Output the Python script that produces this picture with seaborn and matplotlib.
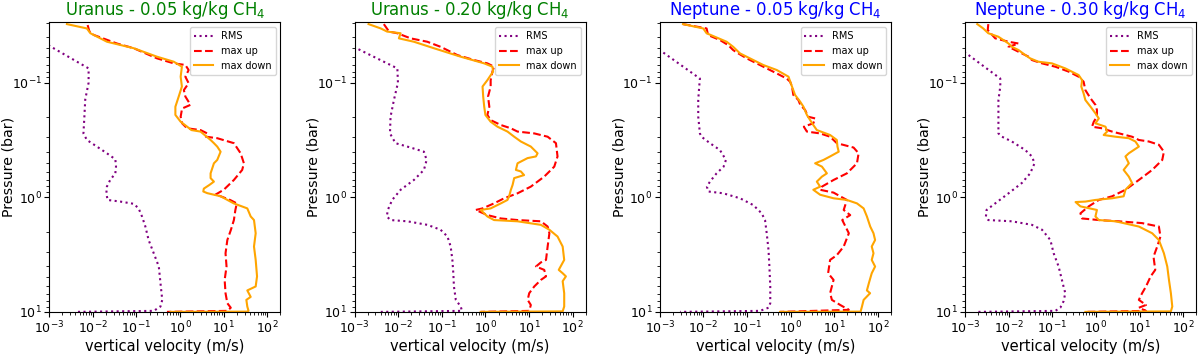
import matplotlib
matplotlib.use("Agg")
import matplotlib.pyplot as plt
import seaborn as sns

# Uranus - 0.05 kg/kg CH4
u05_rms_v = [0.00095, 0.008, 0.008, 0.0067, 0.0064, 0.0061, 0.0073, 0.0124, 0.021, 0.0328, 0.034, 0.0328, 0.025, 0.021, 0.0204,
             0.0218, 0.0428, 0.0865, 0.112, 0.134, 0.16, 0.19, 0.249, 0.325, 0.355, 0.39, 0.355, 0.249, 0.004]
u05_rms_p = [0.047, 0.075, 0.1, 0.14, 0.198, 0.277, 0.316, 0.361, 0.413, 0.466, 0.54, 0.618, 0.706, 0.807, 0.923,
             1.055, 1.09, 1.14, 1.25, 1.47, 1.80, 2.36, 3.08, 4.02, 5.6, 7.86, 8.98, 9.8, 10.0]
u05_up_v = [0.0076, 0.0083, 0.0105, 0.0358, 0.0865, 0.296, 0.718, 1.32, 1.57, 1.32, 1.57, 1.22, 1.32, 1.73, 1.11,
            1.03, 1.11, 1.45, 2.94, 4.19, 3.9, 7.1, 17.1, 24.4, 29, 26.5, 17.1, 10, 6.4, 8.5,
            14, 19.9, 18.5, 17.1, 14.5, 12.1, 11, 11.6, 10.5, 11, 12.1, 14.5, 12.1, 0.5]
u05_up_p = [0.0314, 0.0355, 0.0383, 0.0455, 0.050, 0.0613, 0.0678, 0.070, 0.0775, 0.0886, 0.101, 0.116, 0.132, 0.156, 0.168,
            0.198, 0.226, 0.250, 0.259, 0.277, 0.296, 0.305, 0.337, 0.413, 0.505, 0.577, 0.706, 0.86, 0.95, 0.98,
            1.055, 1.13, 1.29, 1.58, 1.94, 2.36, 3.08, 4.02, 5.26, 6.87, 8.4, 9.2, 9.8, 10.0]
u05_down_v = [0.00255, 0.0073, 0.0088, 0.0211, 0.0865, 0.296, 0.718, 1.1, 1.03, 1.1, 0.93, 0.78, 0.78, 1.03, 1.45,
              1.82, 2.94, 5.0, 5.96, 7.1, 8.48, 7.1, 5.96, 5.0, 5.0, 5.96, 4.7, 3.5, 3.4, 4.19,
              8.5, 17, 34.7, 41.5, 49.4, 54, 49.4, 54, 58, 54, 34.7, 41.5, 33, 34.7, 37, 34.7, 0.6]
u05_down_p = [0.0308, 0.0336, 0.037, 0.0439, 0.050, 0.0593, 0.0656, 0.0725, 0.0886, 0.108, 0.132, 0.162, 0.191, 0.219, 0.242,
              0.259, 0.267, 0.316, 0.337, 0.361, 0.40, 0.472, 0.505, 0.618, 0.68, 0.73, 0.78, 0.84, 0.89, 0.92,
              0.98, 1.13, 1.25, 1.47, 1.58, 2.06, 2.69, 3.52, 4.9, 6.0, 6.5, 7.4, 7.86, 8.98, 9.8, 9.95, 10.0]

# Uranus - 0.20 kg/kg CH4
u20_rms_v = [0.00095, 0.0096, 0.0099, 0.008, 0.0067, 0.0065, 0.0087, 0.0193, 0.039, 0.045, 0.039, 0.023, 0.0114, 0.0073, 0.0058,
             0.0055, 0.0067, 0.0162, 0.047, 0.094, 0.135, 0.16, 0.175, 0.184, 0.19, 0.21, 0.272, 0.29, 0.004]
u20_rms_p = [0.0486, 0.075, 0.1, 0.1416, 0.198, 0.277, 0.337, 0.368, 0.40, 0.472, 0.577, 0.706, 0.86, 1.055, 1.29,
             1.47, 1.58, 1.62, 1.74, 1.92, 2.20, 2.69, 3.52, 4.60, 6.0, 7.86, 8.98, 9.8, 10.0]
u20_up_v = [0.0047, 0.0062, 0.0096, 0.0193, 0.0466, 0.094, 0.228, 0.55, 1.11, 1.58, 1.45, 1.32, 1.32, 1.15, 1.23,
            1.11, 1.32, 2.26, 3.84, 5.45, 13.2, 26.7, 41.4, 45, 37.9, 22.3, 11, 5.45, 2.69, 1.58,
            0.86, 0.6, 1.11, 2.26, 5.45, 18.7, 26.7, 29.3, 26.7, 24.5, 18.7, 14.4, 22.3, 24.5, 18.7,
            13.2, 10.1, 9.3, 11, 10.1, 0.78]
u20_up_p = [0.0308, 0.0358, 0.037, 0.041, 0.0439, 0.0486, 0.0574, 0.0634, 0.0678, 0.0725, 0.080, 0.095, 0.108, 0.132, 0.162,
            0.191, 0.212, 0.234, 0.25, 0.267, 0.277, 0.296, 0.337, 0.44, 0.54, 0.66, 0.807, 0.923, 1.02, 1.13,
            1.25, 1.29, 1.43, 1.53, 1.58, 1.62, 1.80, 2.06, 2.69, 3.52, 3.7, 4.02, 4.3, 4.9, 5.26,
            6.0, 6.87, 7.86, 8.7, 9.8, 10.0]
u20_down_v = [0.0021, 0.004, 0.0056, 0.0114, 0.0104, 0.023, 0.066, 0.272, 0.94, 1.45, 1.5, 1.11, 0.86, 0.89, 0.94,
              1.0, 1.32, 1.89, 3.21, 4.57, 6.5, 11, 15.7, 14.4, 9.25, 5.45, 5.0, 6.5, 7.7, 4.57,
              4.2, 3.84, 3.5, 3.2, 2.26, 1.32, 0.78, 1.11, 1.58, 5.45, 18.7, 29.3, 45, 59, 64,
              48, 59, 70, 59, 64, 64, 59, 0.78]
u20_down_p = [0.0308, 0.0336, 0.0358, 0.037, 0.041, 0.0439, 0.050, 0.0593, 0.0678, 0.0725, 0.080, 0.095, 0.108, 0.132, 0.162,
              0.191, 0.219, 0.242, 0.267, 0.296, 0.326, 0.361, 0.413, 0.44, 0.455, 0.505, 0.577, 0.595, 0.64, 0.68,
              0.78, 0.86, 0.98, 1.055, 1.13, 1.25, 1.29, 1.47, 1.58, 1.62, 1.74, 1.92, 2.20, 2.69, 3.52,
              4.3, 4.60, 4.9, 5.4, 6.87, 8.98, 9.9, 10.0]

# Neptune - 0.05 kg/kg CH4
n05_rms_v = [0.00095, 0.0083, 0.008, 0.0076, 0.0076, 0.0083, 0.009, 0.0141, 0.0239, 0.0328, 0.029, 0.02, 0.0141, 0.012, 0.0129,
             0.0285, 0.069, 0.139, 0.216, 0.258, 0.282, 0.31, 0.325, 0.34, 0.34, 0.31, 0.198, 0.0029]
n05_rms_p = [0.0512, 0.092, 0.108, 0.1416, 0.198, 0.277, 0.296, 0.337, 0.387, 0.472, 0.54, 0.618, 0.73, 0.807, 0.89,
             0.923, 1.02, 1.17, 1.38, 1.58, 2.06, 2.88, 4.02, 6.0, 8.4, 9.2, 9.8, 10.0]
n05_up_v = [0.0034, 0.0118, 0.0128, 0.0239, 0.037, 0.048, 0.063, 0.098, 0.166, 0.282, 0.48, 0.81, 0.97, 1.07, 1.15,
            1.5, 1.66, 2.14, 2.5, 3.63, 3.3, 2.0, 2.35, 4.73, 8.0, 11.4, 27.6, 36, 33, 19.4,
            9.6, 5.2, 4.73, 9.6, 13.6, 19.4, 16.4, 23.1, 15.2, 21.5, 16.4, 11.4, 8.0, 7.2, 9.6,
            8.0, 8.8, 13.6, 21.5, 0.57]
n05_up_p = [0.0308, 0.0336, 0.0384, 0.0424, 0.047, 0.0519, 0.0555, 0.0613, 0.0678, 0.075, 0.083, 0.092, 0.098, 0.108, 0.128,
            0.1416, 0.156, 0.173, 0.198, 0.205, 0.226, 0.242, 0.267, 0.277, 0.296, 0.337, 0.368, 0.413, 0.505, 0.618,
            0.706, 0.807, 0.86, 0.91, 0.98, 1.055, 1.29, 1.43, 1.58, 2.06, 2.69, 3.2, 3.52, 4.6, 5.26,
            6.87, 7.86, 8.7, 9.6, 10.0]
n05_down_v = [0.0034, 0.0099, 0.0118, 0.034, 0.048, 0.069, 0.139, 0.236, 0.48, 0.89, 1.07, 1.26, 1.64, 1.96, 2.35,
              2.79, 3.3, 3.97, 8.0, 11.4, 11.8, 12.6, 8.0, 5.65, 3.63, 5.2, 6.75, 5.2, 3.97, 4.73,
              3.3, 4.73, 9.6, 19.4, 33, 46.9, 55.8, 66.5, 79, 86, 72, 79, 72, 86, 72,
              62, 55.8, 66, 46.9, 43, 40, 0.57]
n05_down_p = [0.0308, 0.0336, 0.037, 0.0439, 0.0486, 0.0555, 0.0634, 0.0701, 0.0775, 0.0886, 0.108, 0.128, 0.146, 0.162, 0.191,
              0.212, 0.234, 0.259, 0.286, 0.316, 0.361, 0.40, 0.44, 0.472, 0.505, 0.54, 0.618, 0.66, 0.73, 0.807,
              0.86, 0.95, 1.02, 1.055, 1.13, 1.25, 1.47, 1.80, 2.06, 2.36, 2.69, 3.08, 3.52, 4.02, 4.6,
              5.6, 6.5, 6.87, 7.86, 8.98, 9.95, 10.0]

# Neptune - 0.30 kg/kg CH4
n30_rms_v = [0.00095, 0.0064, 0.0064, 0.0058, 0.0058, 0.0058, 0.007, 0.0118, 0.0239, 0.034, 0.039, 0.031, 0.02, 0.0099, 0.0049,
             0.0031, 0.003, 0.0034, 0.0118, 0.034, 0.058, 0.09, 0.107, 0.139, 0.18, 0.198, 0.18, 0.152, 0.117, 0.002]
n30_rms_p = [0.0537, 0.092, 0.108, 0.1416, 0.198, 0.277, 0.296, 0.326, 0.387, 0.44, 0.505, 0.618, 0.75, 0.923, 1.13,
             1.29, 1.47, 1.58, 1.62, 1.74, 1.92, 2.36, 3.08, 4.02, 6.0, 6.87, 8.1, 9.2, 9.8, 10.0]
n30_up_v = [0.0034, 0.0033, 0.0049, 0.0099, 0.0168, 0.0099, 0.0168, 0.0285, 0.034, 0.058, 0.117, 0.236, 0.4, 0.52, 0.57,
            0.75, 0.97, 1.05, 1.05, 0.89, 0.81, 1.38, 2.34, 6.7, 9.6, 16.3, 27.6, 36, 33, 19.4,
            9.6, 4.73, 2.34, 1.16, 0.68, 0.44, 0.48, 1.16, 3.3, 11.4, 27.6, 30, 25.3, 20.8, 22.8,
            17.9, 14, 11.4, 9.6, 14, 9.6, 14, 0.57]
n30_up_p = [0.0308, 0.0347, 0.041, 0.0439, 0.0455, 0.0486, 0.0537, 0.0593, 0.0634, 0.0678, 0.0725, 0.080, 0.0886, 0.098, 0.116,
            0.137, 0.156, 0.173, 0.198, 0.219, 0.242, 0.25, 0.267, 0.296, 0.316, 0.326, 0.348, 0.40, 0.472, 0.577,
            0.706, 0.86, 0.98, 1.055, 1.2, 1.38, 1.53, 1.58, 1.62, 1.68, 1.80, 2.20, 2.69, 3.3, 4.3,
            4.9, 6.0, 6.87, 7.86, 8.7, 9.2, 9.8, 10.0]
n30_down_v = [0.0019, 0.0026, 0.0034, 0.0058, 0.0099, 0.0118, 0.0168, 0.024, 0.031, 0.048, 0.098, 0.198, 0.4, 0.48, 0.46,
              0.52, 0.57, 0.75, 0.97, 1.16, 0.97, 1.65, 1.8, 1.5, 2.79, 5.65, 8.0, 9.6, 5.65, 4.73,
              5.65, 4.3, 5.65, 6.7, 4.73, 4.3, 2.34, 0.97, 0.57, 0.34, 0.44, 1.05, 0.97, 1.16, 2.8,
              9.6, 19.4, 27.6, 36, 43, 47, 52, 56, 52, 0.57]
n30_down_p = [0.0308, 0.0336, 0.037, 0.0397, 0.0455, 0.0486, 0.0519, 0.0574, 0.0613, 0.0656, 0.0678, 0.075, 0.0857, 0.095, 0.108,
              0.124, 0.1416, 0.162, 0.185, 0.205, 0.226, 0.242, 0.267, 0.286, 0.296, 0.305, 0.326, 0.361, 0.413, 0.44,
              0.505, 0.577, 0.66, 0.75, 0.86, 0.98, 1.02, 1.055, 1.09, 1.10, 1.2, 1.29, 1.47, 1.58, 1.62,
              1.80, 2.06, 2.36, 3.08, 4.02, 5.26, 6.87, 8.98, 9.9, 10.0]

titles = ["Uranus - 0.05 kg/kg CH$_4$", "Uranus - 0.20 kg/kg CH$_4$",
          "Neptune - 0.05 kg/kg CH$_4$", "Neptune - 0.30 kg/kg CH$_4$"]
title_colors = ["green", "green", "blue", "blue"]

panels = [
    (u05_rms_v, u05_rms_p, u05_up_v, u05_up_p, u05_down_v, u05_down_p),
    (u20_rms_v, u20_rms_p, u20_up_v, u20_up_p, u20_down_v, u20_down_p),
    (n05_rms_v, n05_rms_p, n05_up_v, n05_up_p, n05_down_v, n05_down_p),
    (n30_rms_v, n30_rms_p, n30_up_v, n30_up_p, n30_down_v, n30_down_p),
]

# plain matplotlib look (no seaborn theme)
plt.rcParams['font.family'] = ['DejaVu Sans']

fig, axes = plt.subplots(1, 4, figsize=(12, 3.54), dpi=100)
fig.subplots_adjust(left=0.041, right=0.997, top=0.937, bottom=0.119, wspace=0.32)

for ax, data, title, tcol in zip(axes, panels, titles, title_colors):
    rms_v, rms_p, up_v, up_p, dn_v, dn_p = data
    ax.set_xscale('log')
    ax.set_yscale('log')
    sns.lineplot(x=rms_v, y=rms_p, sort=False, estimator=None, ax=ax,
                 color='purple', linestyle=':', linewidth=1.5, label='RMS')
    sns.lineplot(x=up_v, y=up_p, sort=False, estimator=None, ax=ax,
                 color='red', linestyle='--', linewidth=1.5, label='max up')
    sns.lineplot(x=dn_v, y=dn_p, sort=False, estimator=None, ax=ax,
                 color='orange', linestyle='-', linewidth=1.5, label='max down')
    ax.set_xlim(1e-3, 2e2)
    ax.set_ylim(10, 0.0297)
    ax.set_title(title, color=tcol, fontsize=11.9, pad=5)
    ax.set_xlabel('vertical velocity (m/s)', fontsize=10.5, labelpad=2)
    ax.set_ylabel('Pressure (bar)', fontsize=10.2)
    ax.yaxis.set_label_coords(-0.145, 0.5)
    ax.tick_params(axis='both', which='major', labelsize=9, pad=1.8)
    ax.legend(loc='upper right', fontsize=7)

fig.savefig('out.png', dpi=100)
